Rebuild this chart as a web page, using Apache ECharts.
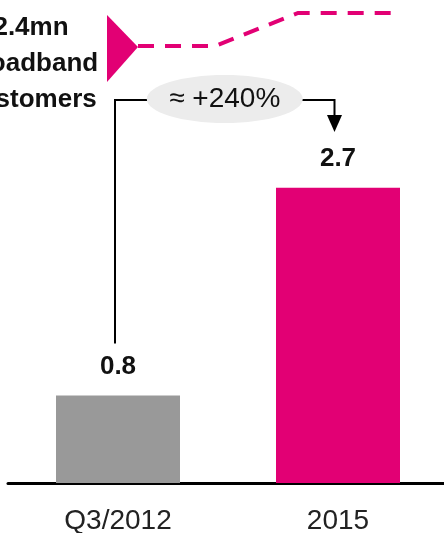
<!DOCTYPE html>
<html>
<head>
<meta charset="utf-8">
<script src="https://cdn.jsdelivr.net/npm/echarts@6/dist/echarts.min.js"></script>
<style>
  html, body { margin: 0; padding: 0; background: #fff; }
  #main { width: 444px; height: 533px; }
</style>
</head>
<body>
<div id="main"></div>
<script>
var categories = ['Q3/2012', '2015'];
var values = [0.8, 2.7];
var barColors = ['#999999', '#e20074'];
var growthText = '≈ +240%';
var headline = ['2.4mn', 'broadband', 'customers'];

window.onload = function () {
    var myChart = echarts.init(document.getElementById('main'));
    var font = 'Liberation Sans, Arial, sans-serif';

    var option = {
        animation: false,
        grid: { left: 8, right: -4, top: 40, bottom: 50, outerBoundsMode: 'none' },
        xAxis: {
            type: 'category',
            data: categories,
            axisLine: { lineStyle: { color: '#000', width: 3 } },
            axisTick: { show: false },
            axisLabel: { fontFamily: font, fontSize: 28, color: '#222', margin: 24 }
        },
        yAxis: {
            type: 'value',
            min: 0,
            max: 4.05,
            show: false,
            splitLine: { show: false }
        },
        series: [{
            type: 'bar',
            barWidth: 124,
            data: values.map(function (v, i) {
                return { value: v, itemStyle: { color: barColors[i] } };
            }),
            label: {
                show: true,
                position: 'top',
                distance: 16,
                fontFamily: font,
                fontSize: 26,
                fontWeight: 'bold',
                color: '#111'
            }
        }]
    };
    myChart.setOption(option);

    // bracket + annotations placed from the bar positions
    var p0 = myChart.convertToPixel({ seriesIndex: 0 }, [0, values[0]]);
    var p1 = myChart.convertToPixel({ seriesIndex: 0 }, [1, values[1]]);
    var lx = p0[0] - 3, rx = p1[0] - 3.5, by = 100;
    var cx = (lx + rx) / 2;
    var magenta = '#e20074';

    myChart.setOption({
        graphic: [
            {
                type: 'text', x: 31, y: 10,
                style: {
                    text: headline.join('\n'),
                    font: 'bold 26px ' + font,
                    fill: '#111',
                    align: 'center',
                    lineHeight: 36
                }
            },
            {
                type: 'polygon',
                shape: { points: [[107, 15], [107, 82], [138, 47]] },
                style: { fill: magenta }
            },
            {
                type: 'polyline',
                shape: { points: [[138, 46], [215, 46], [298, 13], [400, 13]] },
                style: { stroke: magenta, lineWidth: 4, lineDash: [16, 11], fill: null }
            },
            {
                type: 'polyline',
                shape: { points: [[lx, p0[1] - 52], [lx, by], [cx - 70, by]] },
                style: { stroke: '#000', lineWidth: 2, fill: null }
            },
            {
                type: 'polyline',
                shape: { points: [[cx + 74, by], [rx, by], [rx, by + 16]] },
                style: { stroke: '#000', lineWidth: 2, fill: null }
            },
            {
                type: 'polygon',
                shape: { points: [[rx - 7.5, by + 15], [rx + 7.5, by + 15], [rx, by + 32]] },
                style: { fill: '#000' }
            },
            {
                type: 'ellipse',
                shape: { cx: cx, cy: by - 1, rx: 78, ry: 24 },
                style: { fill: '#ececec' }
            },
            {
                type: 'text', x: cx, y: by - 1,
                style: {
                    text: growthText,
                    font: '28px ' + font,
                    fill: '#111',
                    align: 'center',
                    verticalAlign: 'middle'
                }
            }
        ]
    });
};
</script>
</body>
</html>
